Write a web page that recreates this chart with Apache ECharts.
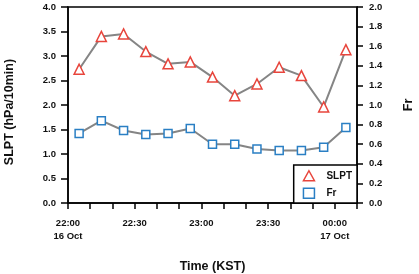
<!DOCTYPE html>
<html>
<head>
<meta charset="utf-8" />
<script src="https://cdn.jsdelivr.net/npm/echarts@6/dist/echarts.min.js"></script>
<style>
  html, body { margin: 0; padding: 0; background: #fff; }
  #chart { width: 419px; height: 274px; }
</style>
</head>
<body>
<div id="chart"></div>
<script>
// observation times (KST), 10-min intervals starting 22:05 on 16 Oct
const times = ['22:05', '22:15', '22:25', '22:35', '22:45', '22:55', '23:05',
  '23:15', '23:25', '23:35', '23:45', '23:55', '00:05'];
const slpt = [2.73, 3.40, 3.45, 3.09, 2.84, 2.88, 2.57, 2.19, 2.43, 2.77, 2.60, 1.96, 3.13];
const fr = [0.71, 0.84, 0.74, 0.70, 0.71, 0.76, 0.60, 0.60, 0.55, 0.535, 0.535, 0.57, 0.77];
const xTickLabels = { 0: '22:00\n16 Oct', 30: '22:30', 60: '23:00', 90: '23:30', 120: '00:00\n17 Oct' };

const toMin = t => {
  const [h, m] = t.split(':').map(Number);
  return (h >= 22 ? (h - 22) * 60 : (h + 2) * 60) + m;
};

const font = 'Liberation Sans, Arial, sans-serif';
const red = '#e8453c';
const blue = '#2a7fc4';
const labelStyle = { fontFamily: font, fontWeight: 'bold', fontSize: 9.5, color: '#111' };
const nameStyle = { fontFamily: font, fontWeight: 'bold', fontSize: 12.5, color: '#111' };

const chart = echarts.init(document.getElementById('chart'));
chart.setOption({
  animation: false,
  textStyle: { fontFamily: font },
  grid: {
    left: 68, right: 62, top: 7, bottom: 71,
    outerBoundsMode: 'none',
    show: true, borderColor: '#000', borderWidth: 1.5
  },
  legend: {
    orient: 'vertical',
    right: 62, bottom: 71,
    padding: [5, 5, 4, 9],
    itemGap: 6,
    itemWidth: 11, itemHeight: 10,
    backgroundColor: '#fff',
    borderColor: '#000', borderWidth: 1.5,
    textStyle: { fontFamily: font, fontWeight: 'bold', fontSize: 10, color: '#111', padding: [0, 0, 0, 7] },
    data: [
      { name: 'SLPT', icon: 'triangle', itemStyle: { color: '#fff', borderColor: red, borderWidth: 1.5 } },
      { name: 'Fr', icon: 'rect', itemStyle: { color: '#fff', borderColor: blue, borderWidth: 1.5 } }
    ]
  },
  xAxis: {
    type: 'value',
    min: 0, max: 130, interval: 10,
    name: 'Time (KST)',
    nameLocation: 'middle',
    nameGap: 57,
    nameTextStyle: nameStyle,
    axisLine: { lineStyle: { color: '#000', width: 1.5 } },
    axisTick: { length: 6, lineStyle: { color: '#000', width: 1.5 } },
    splitLine: { show: false },
    axisLabel: Object.assign({}, labelStyle, {
      margin: 14, lineHeight: 13,
      formatter: v => xTickLabels[v] || ''
    })
  },
  yAxis: [
    {
      type: 'value',
      min: 0, max: 4, interval: 0.5,
      name: 'SLPT (hPa/10min)',
      nameLocation: 'middle',
      nameGap: 52,
      nameTextStyle: Object.assign({}, nameStyle, { padding: [0, 14, 0, 0] }),
      axisLine: { show: true, lineStyle: { color: '#000', width: 1.5 } },
      axisTick: { show: true, length: 7, lineStyle: { color: '#000', width: 1.5 } },
      splitLine: { show: false },
      axisLabel: Object.assign({}, labelStyle, { margin: 12, formatter: v => v.toFixed(1) })
    },
    {
      type: 'value',
      position: 'right',
      min: 0, max: 2, interval: 0.2,
      name: 'Fr',
      nameLocation: 'middle',
      nameGap: 45,
      nameRotate: 90,
      nameTextStyle: nameStyle,
      axisLine: { show: true, lineStyle: { color: '#000', width: 1.5 } },
      axisTick: { show: true, length: 6, lineStyle: { color: '#000', width: 1.5 } },
      splitLine: { show: false },
      axisLabel: Object.assign({}, labelStyle, { margin: 12, formatter: v => v.toFixed(1) })
    }
  ],
  series: [
    {
      name: 'SLPT',
      type: 'line',
      yAxisIndex: 0,
      data: times.map((t, i) => [toMin(t), slpt[i]]),
      symbol: 'triangle',
      symbolSize: 10,
      itemStyle: { color: '#fff', borderColor: red, borderWidth: 1.5 },
      lineStyle: { color: '#858585', width: 2 },
      z: 3
    },
    {
      name: 'Fr',
      type: 'line',
      yAxisIndex: 1,
      data: times.map((t, i) => [toMin(t), fr[i]]),
      symbol: 'rect',
      symbolSize: 8,
      itemStyle: { color: '#fff', borderColor: blue, borderWidth: 1.5 },
      lineStyle: { color: '#858585', width: 2 },
      z: 3
    }
  ]
});
</script>
</body>
</html>
